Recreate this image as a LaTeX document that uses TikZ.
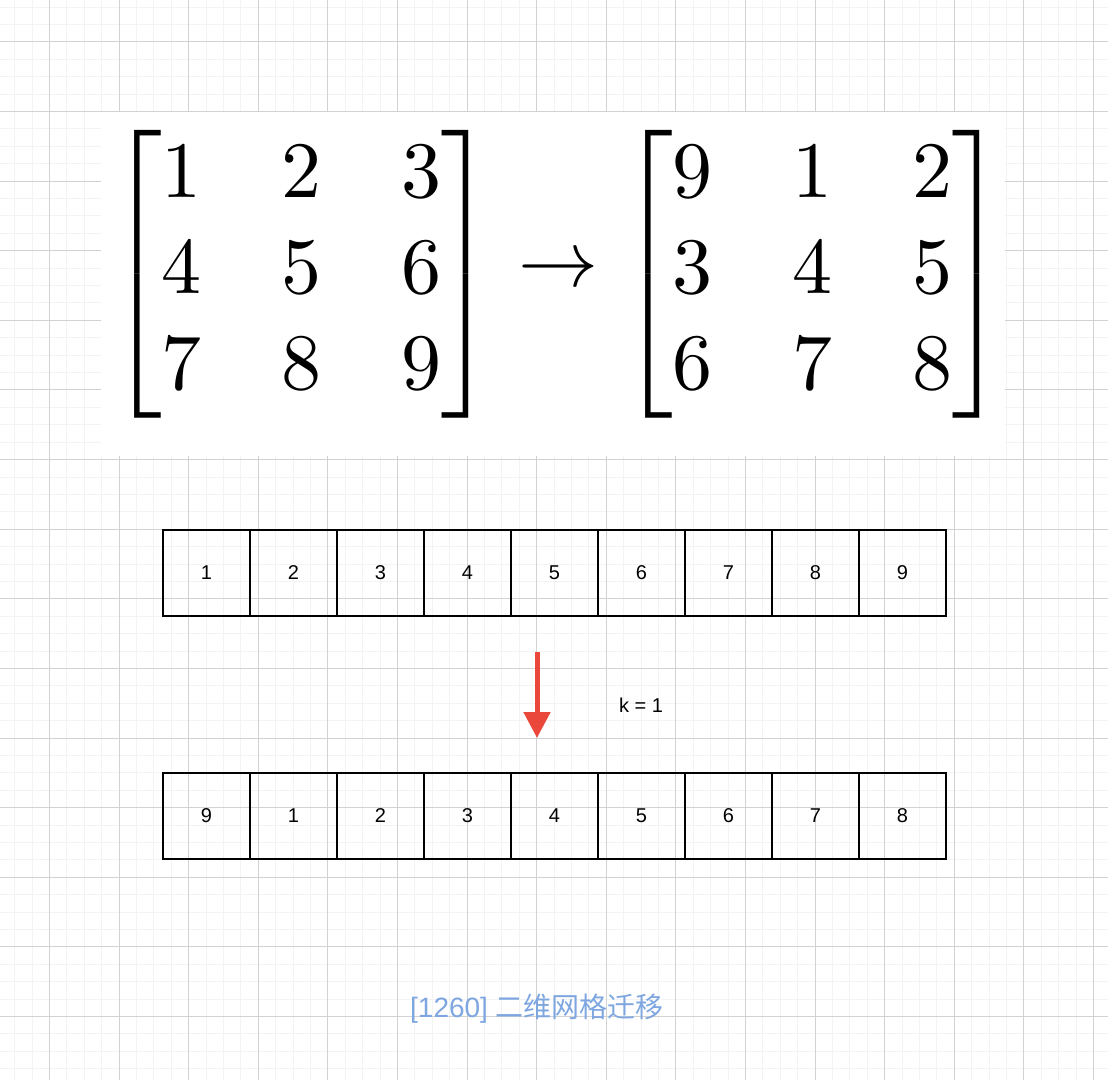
\documentclass[tikz,border=0pt]{standalone}
\usepackage{amsmath}
\usepackage{fontspec}
\newfontfamily\cellfont{Liberation Sans}
\newfontfamily\cjk{Noto Sans CJK SC}
\usetikzlibrary{arrows.meta, positioning}
\definecolor{minorgrid}{RGB}{243,243,243}
\definecolor{majorgrid}{RGB}{210,210,210}
\definecolor{shiftred}{RGB}{234,72,58}
\definecolor{titleblue}{RGB}{126,166,224}

\begin{document}
\begin{tikzpicture}[
  x=0.5pt, y=-0.5pt,
  minorline/.style={minorgrid, line width=0.5pt},
  majorline/.style={majorgrid, line width=0.5pt},
  cell/.style={draw, line width=1pt, minimum width=43.5pt, minimum height=43pt,
    inner sep=0pt, outer sep=0pt, font=\cellfont\fontsize{10}{12}\selectfont},
  bigmath/.style={scale=4, inner sep=0pt},
  shiftarrow/.style={-{Triangle[length=13pt, width=13pt]}, shiftred, line width=2.5pt}
]
\useasboundingbox (0,0) rectangle (1108,1080);
\fill[white] (0,0) rectangle (1108,1080);

% Grid
\foreach \i in {0,...,63} {
  \draw[minorline] ({14.7+17.4*\i},0) -- ({14.7+17.4*\i},1080);
  \draw[minorline] (0,{7.2+17.4*\i}) -- (1108,{7.2+17.4*\i});
}
\foreach \i in {0,...,15} {
  \draw[majorline] ({49.5+69.6*\i},0) -- ({49.5+69.6*\i},1080);
  \draw[majorline] (0,{42+69.6*\i}) -- (1108,{42+69.6*\i});
}

% Matrices
\fill[white] (101,112) rectangle (1005,456);
\node[bigmath] (mleft) at (301.5,274.5)
  {$\begin{bmatrix}1&2&3\\4&5&6\\7&8&9\end{bmatrix}$};
\node[bigmath] (mto) at (558,272) {$\rightarrow$};
\node[bigmath] (mright) at (812.5,274.5)
  {$\begin{bmatrix}9&1&2\\3&4&5\\6&7&8\end{bmatrix}$};

% Flattened rows
\foreach \v [count=\i] in {1,2,3,4,5,6,7,8,9}
  \node[cell] (a\i) at ({163+87*(\i-0.5)},573) {\raisebox{-1pt}{\v}};
\foreach \v [count=\i] in {9,1,2,3,4,5,6,7,8}
  \node[cell] (b\i) at ({163+87*(\i-0.5)},816) {\raisebox{-1pt}{\v}};

% Shift
\coordinate (kfrom) at (537,652);
\coordinate (kto) at (537,738);
\draw[shiftarrow] (kfrom) -- (kto);
\node[font=\cellfont\fontsize{10}{12}\selectfont] (k) at (641,705) {k = 1};

\node[font=\cellfont\fontsize{14}{16}\selectfont, text=titleblue] (title) at (537,1009)
  {[1260] {\cjk 二维网格迁移}};
\end{tikzpicture}
\end{document}
